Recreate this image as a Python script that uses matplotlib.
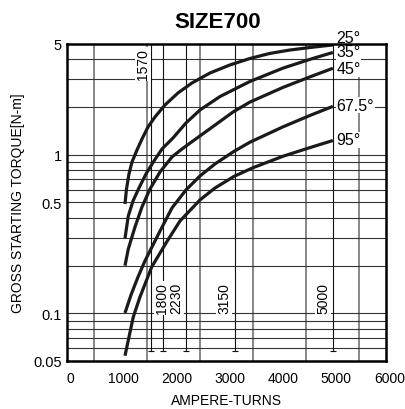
import numpy as np
import matplotlib
matplotlib.use('Agg')
import matplotlib.pyplot as plt
from matplotlib.transforms import ScaledTranslation

plt.rcParams['font.family'] = ['Liberation Sans', 'DejaVu Sans']

# curves (ampere-turns vs torque N-m)
angles = ['25°', '35°', '45°', '67.5°', '95°']

x25 = [1086, 1114, 1161, 1218, 1312, 1406, 1519, 1651, 1839, 2084, 2347, 2686, 3062, 3438, 3815, 4191, 4568, 5000]
y25 = [0.489, 0.608, 0.757, 0.901, 1.072, 1.258, 1.497, 1.732, 2.062, 2.455, 2.838, 3.28, 3.687, 4.05, 4.36, 4.58, 4.75, 4.93]

x35 = [1086, 1148, 1237, 1349, 1481, 1632, 1783, 1990, 2234, 2498, 2874, 3438, 4060, 4568, 5000]
y35 = [0.297, 0.411, 0.511, 0.617, 0.757, 0.914, 1.088, 1.276, 1.587, 1.917, 2.33, 2.9, 3.52, 4.0, 4.42]

x45 = [1086, 1148, 1274, 1406, 1557, 1745, 1971, 2159, 2366, 2686, 3119, 3438, 4060, 4568, 5000]
y45 = [0.1997, 0.2544, 0.350, 0.469, 0.608, 0.779, 0.969, 1.088, 1.222, 1.46, 1.86, 2.15, 2.66, 3.1, 3.513]

x67 = [1086, 1199, 1331, 1462, 1594, 1745, 1971, 2234, 2498, 2780, 3137, 3438, 4060, 4568, 5000]
y67 = [0.1005, 0.1305, 0.1695, 0.214, 0.262, 0.330, 0.462, 0.60, 0.735, 0.875, 1.05, 1.2, 1.5, 1.77, 2.02]

x95 = [1086, 1242, 1368, 1589, 1871, 2121, 2498, 2780, 3137, 3501, 4066, 4569, 5000]
y95 = [0.054, 0.0948, 0.1267, 0.196, 0.282, 0.382, 0.519, 0.617, 0.73, 0.83, 0.98, 1.11, 1.23]

curves = [(x25, y25), (x35, y35), (x45, y45), (x67, y67), (x95, y95)]

ref_lines = [1570, 1800, 2230, 3150, 5000]
ref_labels = ['1570', '1800', '2230', '3150', '5000']

grid_x = [500, 1500, 2500, 3500, 4500, 5500]
grid_y = [0.06, 0.07, 0.08, 0.09, 0.1, 0.2, 0.3, 0.4, 0.5, 0.6, 0.7, 0.8, 0.9, 1, 2, 3, 4]

xticks = [0, 1000, 2000, 3000, 4000, 5000, 6000]
yticks = [0.05, 0.1, 0.5, 1, 5]
ytick_labels = ['0.05', '0.1', '0.5', '1', '5']

fig = plt.figure(figsize=(4.06, 4.10), dpi=100)
ax = fig.add_axes([0.1658, 0.1171, 0.7849, 0.7732])
ax.set_yscale('log')
ax.set_xlim(0, 6000)
ax.set_ylim(0.05, 5)

for gx in grid_x:
    ax.axvline(gx, color='#666666', lw=1.1, zorder=1)
for gy in grid_y:
    ax.axhline(gy, color='#333333', lw=0.8, zorder=1)

# reference ampere-turn lines with labels
lab_x = [1425, 1792, 2046, 2949, 4813]
for xv, lx, txt in zip(ref_lines, lab_x, ref_labels):
    ax.plot([xv, xv], [0.058, 5], color='#111111', lw=0.8, zorder=2)
    ax.plot([xv], [0.058], marker='_', ms=5, color='#111111', mew=0.8, zorder=2)
    if txt == '1570':
        ax.text(lx, 4.7, txt, rotation=90, ha='center', va='top', fontsize=10,
                bbox=dict(facecolor='white', edgecolor='none', pad=1.0), zorder=3)
    else:
        ax.text(lx, 0.1, txt, rotation=90, ha='center', va='bottom', fontsize=10,
                bbox=dict(facecolor='white', edgecolor='none', pad=1.0), zorder=3)

for (xs, ys) in curves:
    ax.plot(xs, ys, color='#1a1a1a', lw=2.3, solid_capstyle='butt',
            solid_joinstyle='round', zorder=4)

lab_y = [5.5, 4.45, 3.5, 2.05, 1.24]
for ang, ly in zip(angles, lab_y):
    ax.text(5070, ly, ang, ha='left', va='center', fontsize=11.5, clip_on=False,
            bbox=dict(facecolor='white', edgecolor='none', pad=0.5), zorder=5)

ax.set_xticks(xticks)
ax.set_xticklabels([str(v) for v in xticks], fontsize=10)
ax.set_yticks(yticks)
ax.set_yticklabels(ytick_labels, fontsize=10.5)
ax.yaxis.set_minor_locator(matplotlib.ticker.NullLocator())
ax.tick_params(length=0, pad=4)
ax.tick_params(axis='x', pad=7)
for lbl in ax.get_xticklabels():
    lbl.set_transform(lbl.get_transform() + ScaledTranslation(0.035, 0, fig.dpi_scale_trans))

for sp in ax.spines.values():
    sp.set_linewidth(1.8)
    sp.set_zorder(6)

ax.set_xlabel('AMPERE-TURNS', fontsize=10, labelpad=6)
ax.set_ylabel('GROSS STARTING TORQUE[N-m]', fontsize=10, labelpad=6)
fig.text(0.536, 0.945, 'SIZE700', ha='center', va='center', fontsize=16, fontweight='bold')

fig.savefig('out.png', dpi=100)
